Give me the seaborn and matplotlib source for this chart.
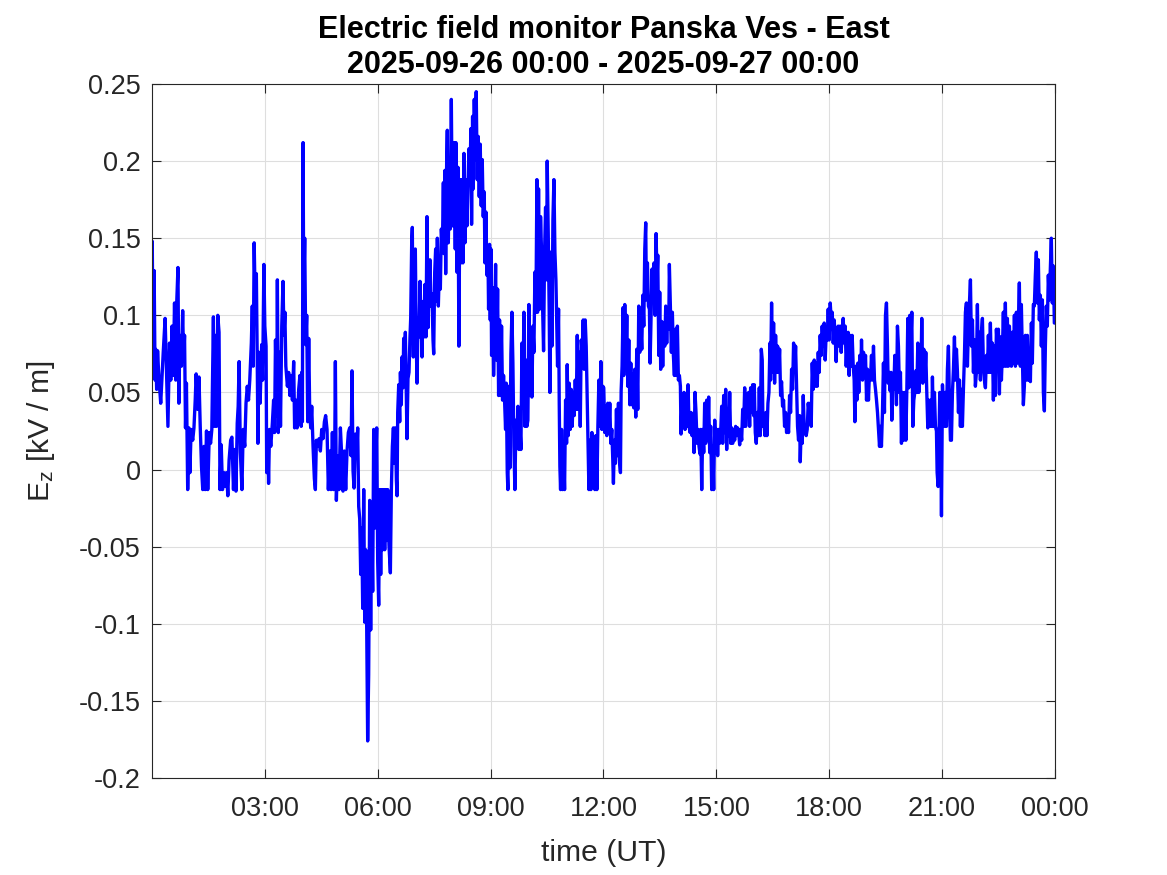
import numpy as np
import pandas as pd
import matplotlib
matplotlib.use("Agg")
import matplotlib.pyplot as plt
import matplotlib.dates as mdates
import seaborn as sns

# ------------------------------------------------------------
# Donnees : (minutes depuis 00:00 UT, Ez en kV/m)
# ------------------------------------------------------------
day_start = pd.Timestamp("2025-09-26 00:00")
day_end = pd.Timestamp("2025-09-27 00:00")

block_00_04 = [
    (0, 0.128), (0.5, 0.148), (2, 0.062), (3.5, 0.129), (5, 0.058), (6, 0.078), (7.5, 0.052), (9, 0.077), (11, 0.060), (14, 0.043),
    (18, 0.076), (21, 0.098), (25.5, 0.028), (28, 0.082), (30, 0.058), (32, 0.093), (34, 0.061), (36, 0.108), (38, 0.058), (39.5, 0.108),
    (40.5, 0.120), (41.5, 0.131), (43, 0.043), (44.5, 0.087), (47, 0.067), (49, 0.103), (50.5, 0.071), (52, 0.087), (53.5, 0.027), (55, 0.056),
    (57, -0.013), (59, 0.027), (60.5, -0.002), (62.5, 0.026), (65, 0.019), (67, 0.027), (69, 0.045), (70.5, 0.062), (73, 0.039), (75, 0.060),
    (77, 0.028), (79, 0.002), (81, -0.013), (83, 0.015), (85, -0.013), (87, 0.025), (89, -0.013), (91.5, 0.024), (93.5, 0.017), (95.5, 0.026),
    (98, 0.099), (99.5, 0.028), (101, 0.087), (103, 0.028), (105, 0.100), (107, 0.089), (108.5, -0.013), (110.5, 0.016), (112.5, -0.013), (115, -0.002),
    (117, -0.011), (119, -0.002), (121, -0.017), (123, 0.006), (125.5, 0.019), (127.5, 0.021), (130, -0.013), (132, 0.013), (134, -0.014), (136, 0.030),
    (137.5, 0.041), (139, 0.070), (141, 0.011), (143.5, -0.013), (145.5, 0.026), (148, 0.015), (150, 0.043), (152, 0.054), (154, 0.045), (156, 0.058),
    (158.5, 0.082), (160, 0.106), (161.5, 0.067), (163, 0.147), (165, 0.102), (166.5, 0.127), (168, 0.067), (169, 0.017), (170.5, 0.076), (172.5, 0.043),
    (175, 0.081), (176.5, 0.058), (178.5, 0.133), (180, 0.093), (182, 0.080), (183, -0.002), (184.5, 0.024), (186, -0.009), (187.5, 0.026), (189.5, 0.015),
    (192, 0.030), (194, 0.045), (195.5, 0.024), (197, 0.084), (199, 0.035), (200, 0.123), (201.5, 0.024), (203.5, 0.076), (205, 0.028), (207, 0.093),
    (209, 0.122), (210.5, 0.087), (212, 0.102), (213.5, 0.067), (216, 0.054), (218, 0.063), (220, 0.048), (222, 0.061), (224, 0.045), (226, 0.070),
    (227.5, 0.027), (229.5, 0.045), (231.5, 0.027), (234, 0.052), (236, 0.061), (238, 0.028),
]

block_04_08 = [
    (238.8, 0.063), (239.9, 0.031), (241, 0.212), (242, 0.114), (243.6, 0.150), (245.2, 0.081), (246.8, 0.100), (248.4, 0.031), (250, 0.085), (251.6, 0.037),
    (253.2, 0.027), (254.8, 0.041), (256.9, 0.015), (259, -0.006), (260.6, -0.013), (262.2, 0.019), (264.3, 0.015), (266.5, 0.020), (268.6, 0.012), (270.7, 0.026),
    (272.8, 0.020), (275, 0.031), (277, 0.035), (279.2, 0.026), (281.3, -0.013), (283.5, 0.012), (285.6, -0.013), (287.7, 0.024), (289.8, -0.013), (291.4, 0.009),
    (292.5, 0.070), (294.1, -0.020), (296.2, 0.009), (298.3, -0.013), (300.5, 0.027), (302.6, 0.009), (304.7, -0.014), (306.8, 0.012), (309, -0.013), (311.1, 0.012),
    (313.2, 0.024), (315.3, 0.027), (317.5, 0.009), (319, 0.064), (320.7, -0.001), (322.3, -0.012), (324.4, 0.023), (326.5, 0.009), (328.1, 0.027), (329.7, -0.024),
    (331.3, -0.032), (332.9, -0.068), (334.5, -0.038), (336.1, -0.090), (337.7, -0.013), (339.3, -0.099), (340.9, -0.052), (342.5, -0.104), (344, -0.176), (345.6, -0.133),
    (347.2, -0.020), (348.8, -0.104), (350.4, -0.032), (352, -0.079), (353.6, 0.026), (355.2, -0.038), (356.8, 0.004), (358.4, 0.027), (360, -0.060), (361.6, -0.088),
    (363.2, -0.013), (364.8, -0.068), (366.4, -0.013), (368, -0.052), (369.6, -0.013), (371.2, -0.052), (372.8, -0.013), (374.3, -0.046), (375.9, -0.013), (378, -0.049),
    (380.2, -0.067), (381.8, -0.013), (383.4, 0.015), (385, 0.027), (386.6, 0.004), (388.2, 0.027), (389.8, -0.007), (390.9, -0.017), (391.9, 0.037), (393.5, 0.055),
    (395.1, 0.031), (396.2, 0.063), (397.7, 0.042), (398.8, 0.073), (400.4, 0.053), (401.4, 0.085), (403, 0.070), (404.1, 0.089), (405.7, 0.048), (406.7, 0.020),
    (408.3, 0.059), (409.9, 0.063), (411.5, 0.086), (412.6, 0.098), (414.2, 0.147), (415.2, 0.157), (416.8, 0.073), (418.4, 0.106), (420, 0.143), (421.6, 0.081),
    (422.7, 0.056), (424.3, 0.098), (425.9, 0.086), (427.5, 0.122), (429.1, 0.098), (430.7, 0.073), (432.3, 0.109), (433.8, 0.086), (435.4, 0.120), (437, 0.086),
    (438.6, 0.164), (440.2, 0.092), (441.8, 0.120), (443.4, 0.136), (445, 0.106), (446.6, 0.114), (448.2, 0.084), (449.3, 0.075), (450.9, 0.128), (452.4, 0.143),
    (454, 0.109), (455.1, 0.150), (456.7, 0.106), (458.3, 0.131), (459.9, 0.117), (461.5, 0.156), (463.1, 0.142), (464.7, 0.186), (465.7, 0.140), (467.3, 0.194),
    (468.4, 0.127), (470, 0.201), (471, 0.220), (472.6, 0.147), (474.2, 0.189), (475.8, 0.156), (477.4, 0.240), (479, 0.158), (480.6, 0.211),
]

block_08_12 = [
    (481.5, 0.158), (482.1, 0.212), (483.7, 0.143), (484.7, 0.212), (486.3, 0.128), (487.9, 0.196), (489.5, 0.080), (491.1, 0.188), (492.7, 0.134), (494.3, 0.188),
    (495.9, 0.134), (497.5, 0.205), (499.1, 0.147), (500.7, 0.188), (502.3, 0.158), (503.9, 0.182), (505.5, 0.208), (507.1, 0.188), (508.6, 0.221), (509.7, 0.159),
    (511.3, 0.229), (512.4, 0.182), (514, 0.240), (515.6, 0.201), (517.1, 0.245), (518.7, 0.188), (520.3, 0.216), (521.9, 0.177), (523.5, 0.211), (525.1, 0.171),
    (526.7, 0.201), (528.3, 0.164), (529.9, 0.180), (531, 0.134), (532.6, 0.167), (534.2, 0.126), (535.7, 0.145), (536.8, 0.104), (538.4, 0.146), (539.5, 0.097),
    (540.5, 0.143), (541.6, 0.074), (543.2, 0.118), (544.8, 0.061), (546.4, 0.093), (548, 0.133), (549.6, 0.071), (551.2, 0.117), (552.8, 0.048), (554.3, 0.097),
    (555.9, 0.048), (557.5, 0.093), (559.1, 0.045), (560.7, 0.061), (562.3, 0.045), (563.9, 0.026), (565, 0.056), (566.6, -0.002), (567.6, -0.013), (569.2, 0.054),
    (570.8, 0.001), (572.4, 0.075), (574, 0.102), (575.6, 0.069), (577.2, 0.015), (578.8, -0.013), (580.4, 0.032), (582, 0.019), (583.6, 0.041), (585.2, 0.013),
    (586.8, 0.028), (588.4, 0.013), (590, 0.082), (591.5, 0.040), (593.1, 0.102), (594.7, 0.028), (596.3, 0.071), (597.9, 0.028), (599.5, 0.032), (601.1, 0.107),
    (602.7, 0.048), (604.3, 0.082), (605.9, 0.047), (607.5, 0.093), (609.1, 0.076), (610.7, 0.128), (612.3, 0.102), (613.9, 0.188), (614.9, 0.102), (616.5, 0.182),
    (618.1, 0.104), (619.7, 0.164), (621.3, 0.141), (622.9, 0.106), (624.5, 0.077), (626.1, 0.141), (627.7, 0.170), (629.3, 0.123), (630.3, 0.200), (631.9, 0.154),
    (633.5, 0.102), (634.6, 0.050), (636.2, 0.141), (637.8, 0.080), (639.4, 0.162), (641, 0.188), (642.6, 0.141), (644.2, 0.123), (645.8, 0.089), (646.8, 0.067),
    (648.4, 0.104), (649.5, 0.043), (650.5, 0.002), (651.6, -0.013), (653.2, 0.026), (654.8, -0.013), (656.4, 0.013), (658, -0.013), (659.6, 0.045), (661.2, 0.017),
    (662.2, 0.068), (663.8, 0.022), (665.4, 0.056), (667, 0.026), (668.6, 0.052), (670.2, 0.028), (671.8, 0.050), (673.4, 0.035), (675, 0.058), (676.6, 0.039),
    (678.2, 0.087), (679.8, 0.039), (681.4, 0.076), (683, 0.028), (684.5, 0.084), (686.1, 0.076), (687.7, 0.097), (689.3, 0.065), (690.9, 0.097), (692.5, 0.080),
    (694.1, 0.045), (695.2, 0.022), (696.8, -0.013), (698.4, 0.019), (700, -0.013), (701.6, 0.024), (703.1, -0.006), (704.7, 0.017), (706.3, -0.013), (707.9, 0.022),
    (709.5, -0.013), (711.1, 0.028), (712.7, 0.058), (714.3, 0.028), (715.9, 0.070), (717.5, 0.026), (719.1, 0.054),
]

block_12_16 = [
    (720.5, 0.053), (722.1, 0.024), (723.7, 0.041), (725.3, 0.022), (726.9, 0.043), (728.5, 0.024), (730.1, 0.043), (731.7, 0.017), (733.3, 0.026), (734.9, 0.006),
    (735.9, -0.009), (737.5, 0.019), (739.1, 0.004), (740.7, 0.039), (742.3, 0.009), (743.9, 0.043), (745.5, 0.006), (747.1, -0.002), (748.2, 0.051), (749.7, 0.067),
    (751.3, 0.105), (752.4, 0.061), (754, 0.107), (755.6, 0.069), (757.2, 0.100), (758.8, 0.054), (760.4, 0.084), (762, 0.042), (763.6, 0.069), (765.1, 0.042),
    (766.7, 0.062), (768.3, 0.040), (769.9, 0.065), (771.5, 0.034), (773.1, 0.078), (774.7, 0.039), (776.3, 0.106), (777.9, 0.076), (779.5, 0.094), (781.1, 0.078),
    (782.7, 0.113), (784.3, 0.093), (785.9, 0.143), (787.4, 0.160), (788.5, 0.110), (790.1, 0.134), (791.7, 0.106), (793.3, 0.104), (794.4, 0.069), (796, 0.102),
    (797.5, 0.130), (799.1, 0.110), (800.7, 0.134), (802.3, 0.100), (803.9, 0.153), (805.5, 0.123), (806.6, 0.139), (808.2, 0.074), (809.7, 0.115), (811.3, 0.065),
    (813, 0.096), (814.5, 0.067), (816.1, 0.095), (817.7, 0.080), (819.3, 0.106), (820.9, 0.082), (822.5, 0.104), (824.1, 0.091), (825.1, 0.133), (826.7, 0.106),
    (828.3, 0.076), (829.9, 0.102), (831.5, 0.074), (833.1, 0.061), (834.7, 0.091), (836.3, 0.061), (837.9, 0.093), (839.5, 0.058), (841.1, 0.061), (842.7, 0.054),
    (843.7, 0.023), (845.3, 0.045), (846.9, 0.028), (848.5, 0.050), (850.1, 0.026), (851.7, 0.039), (853.3, 0.028), (854.9, 0.055), (856.5, 0.028), (858.1, 0.024),
    (859.7, 0.037), (861.3, 0.022), (862.9, 0.032), (864.4, 0.011), (866, 0.050), (867.6, 0.037), (869.2, 0.017), (870.8, 0.026), (872.4, 0.015), (874, 0.010),
    (875.1, 0.026), (876.7, -0.013), (878.3, 0.026), (879.9, 0.011), (881.4, 0.043), (883, 0.017), (884.6, 0.045), (886.2, 0.019), (887.8, 0.047), (889.4, 0.011),
    (891, 0.028), (892.6, -0.013), (894.2, 0.015), (895.8, -0.013), (897.4, 0.032), (899, 0.011), (900.6, 0.026), (902.1, 0.009), (903.7, 0.026), (905.3, 0.017),
    (906.9, 0.024), (908.5, 0.041), (910.1, 0.017), (911.7, 0.048), (913.3, 0.024), (914.9, 0.052), (916.5, 0.013), (918.1, 0.039), (919.7, 0.022), (921.3, 0.050),
    (922.9, 0.017), (924.5, 0.027), (926.1, 0.017), (927.6, 0.026), (929.2, 0.019), (930.8, 0.028), (932.4, 0.022), (934, 0.027), (935.6, 0.024), (937.2, 0.016),
    (938.8, 0.026), (940.4, 0.019), (942, 0.039), (943.6, 0.028), (945.2, 0.053), (946.8, 0.028), (948.3, 0.049), (949.9, 0.037), (951.5, 0.050), (953.1, 0.028),
    (954.7, 0.053), (956.3, 0.037), (957.9, 0.055), (959.5, 0.035),
]

block_16_20 = [
    (960.5, 0.055), (962.1, 0.024), (963.7, 0.017), (965.3, 0.037), (966.9, 0.022), (968.5, 0.053), (970.1, 0.022), (971.7, 0.078), (973.2, 0.071), (974.3, 0.028),
    (975.9, 0.031), (977.5, 0.022), (979.1, 0.037), (980.7, 0.022), (982.3, 0.043), (983.9, 0.050), (985.5, 0.082), (986.5, 0.058), (988.1, 0.108), (989.7, 0.063),
    (991.3, 0.095), (992.9, 0.056), (994.5, 0.087), (996.1, 0.063), (997.7, 0.080), (999.3, 0.063), (1000.9, 0.078), (1002.5, 0.048), (1004, 0.057), (1005.6, 0.041),
    (1007.2, 0.045), (1008.8, 0.028), (1010.4, 0.037), (1012, 0.024), (1013.6, 0.032), (1015.2, 0.024), (1016.8, 0.048), (1018.4, 0.037), (1020, 0.065), (1021.6, 0.052),
    (1023.2, 0.082), (1024.8, 0.063), (1026.4, 0.080), (1027.9, 0.056), (1029.5, 0.028), (1031.1, 0.019), (1032.7, 0.035), (1033.8, 0.005), (1035.4, 0.028), (1037, 0.017),
    (1038.6, 0.048), (1040.2, 0.026), (1041.7, 0.024), (1043.3, 0.022), (1044.9, 0.026), (1046.5, 0.043), (1048.1, 0.037), (1049.7, 0.043), (1051.3, 0.028), (1052.9, 0.069),
    (1054.5, 0.052), (1056.1, 0.071), (1057.7, 0.054), (1059.3, 0.069), (1060.9, 0.054), (1062.5, 0.076), (1064, 0.063), (1065.6, 0.087), (1067.2, 0.074), (1068.8, 0.093),
    (1070.4, 0.080), (1072, 0.095), (1073.6, 0.071), (1075.2, 0.089), (1076.8, 0.084), (1078.4, 0.104), (1080, 0.084), (1081.6, 0.108), (1083.2, 0.097), (1084.8, 0.102),
    (1086.4, 0.082), (1087.9, 0.097), (1089.5, 0.087), (1091.1, 0.070), (1092.7, 0.091), (1094.3, 0.093), (1095.9, 0.080), (1097.5, 0.093), (1099.1, 0.076), (1100.7, 0.089),
    (1102.3, 0.098), (1103.9, 0.082), (1105.5, 0.093), (1107.1, 0.067), (1108.7, 0.084), (1110.2, 0.089), (1111.8, 0.061), (1113.4, 0.087), (1115, 0.067), (1116.6, 0.087),
    (1118.2, 0.068), (1119.8, 0.058), (1120.9, 0.031), (1122.5, 0.067), (1124.1, 0.045), (1125.6, 0.069), (1127.2, 0.050), (1128.8, 0.074), (1130.4, 0.063), (1131.5, 0.084),
    (1133.1, 0.058), (1134.7, 0.076), (1136.3, 0.065), (1137.9, 0.074), (1139.5, 0.045), (1141.1, 0.065), (1142.6, 0.045), (1144.2, 0.063), (1145.8, 0.058), (1147.4, 0.074),
    (1149, 0.058), (1150.6, 0.080), (1152.2, 0.058), (1153.8, 0.052), (1155.4, 0.045), (1157, 0.037), (1158.6, 0.026), (1160.2, 0.015), (1161.8, 0.028), (1163.3, 0.015),
    (1164.9, 0.037), (1166.5, 0.069), (1168.1, 0.037), (1169.7, 0.100), (1171.3, 0.108), (1172.9, 0.080), (1174, 0.056), (1175.6, 0.063), (1177.2, 0.051), (1178.7, 0.063),
    (1179.8, 0.032), (1181.4, 0.058), (1183, 0.052), (1184.6, 0.074), (1186.2, 0.058), (1187.2, 0.042), (1188.8, 0.093), (1190.4, 0.080), (1192, 0.050), (1193.6, 0.063),
    (1195.2, 0.017), (1196.8, 0.050), (1198.4, 0.019),
]

block_20_24 = [
    (1200.6, 0.050), (1202.2, 0.019), (1203.8, 0.052), (1205.3, 0.098), (1206.9, 0.053), (1208.5, 0.100), (1210.1, 0.080), (1211.7, 0.102), (1213.3, 0.028), (1214.9, 0.045),
    (1216.5, 0.050), (1218.1, 0.064), (1219.7, 0.050), (1221.3, 0.082), (1222.9, 0.050), (1224.5, 0.080), (1226.1, 0.058), (1227.6, 0.098), (1229.2, 0.056), (1230.8, 0.078),
    (1232.4, 0.058), (1234, 0.076), (1235.6, 0.050), (1237.2, 0.027), (1238.8, 0.045), (1240.4, 0.028), (1242, 0.045), (1243.6, 0.028), (1244.6, 0.060), (1246.2, 0.028),
    (1247.8, 0.050), (1249.4, 0.028), (1251, 0.025), (1252.1, -0.002), (1253.7, -0.011), (1255.3, 0.026), (1256.3, 0.050), (1257.9, 0.024), (1259, -0.030), (1260.6, 0.055),
    (1262.2, 0.037), (1263.8, 0.028), (1265.3, 0.050), (1266.9, 0.028), (1268.5, 0.065), (1270.1, 0.080), (1271.7, 0.045), (1273.3, 0.019), (1274.9, 0.019), (1276.5, 0.050),
    (1278.1, 0.065), (1279.7, 0.086), (1281.3, 0.058), (1282.9, 0.078), (1284.5, 0.063), (1286.1, 0.037), (1287.7, 0.058), (1289.2, 0.028), (1290.8, 0.052), (1292.4, 0.028),
    (1294, 0.052), (1295.6, 0.073), (1297.2, 0.102), (1298.8, 0.108), (1300.4, 0.067), (1302, 0.093), (1303.6, 0.108), (1305.2, 0.123), (1306.8, 0.080), (1308.4, 0.097),
    (1310, 0.063), (1311.5, 0.084), (1313.1, 0.054), (1314.7, 0.063), (1316.3, 0.107), (1317.9, 0.063), (1319.5, 0.089), (1321.1, 0.058), (1322.7, 0.089), (1324.3, 0.098),
    (1325.9, 0.067), (1327.5, 0.058), (1329.1, 0.053), (1330.7, 0.074), (1332.3, 0.063), (1333.8, 0.087), (1335.4, 0.063), (1337, 0.095), (1338.6, 0.063), (1340.2, 0.082),
    (1341.8, 0.045), (1343.4, 0.080), (1345, 0.048), (1346.6, 0.091), (1348.2, 0.078), (1349.8, 0.091), (1351.4, 0.049), (1353, 0.086), (1354.6, 0.058), (1356.2, 0.077),
    (1357.7, 0.102), (1359.3, 0.067), (1360.9, 0.108), (1362.5, 0.067), (1364.1, 0.098), (1365.7, 0.067), (1367.3, 0.093), (1368.9, 0.078), (1370.5, 0.067), (1372.1, 0.089),
    (1373.7, 0.069), (1375.3, 0.100), (1376.9, 0.067), (1378.5, 0.102), (1380.1, 0.069), (1381.6, 0.093), (1383.2, 0.121), (1384.8, 0.067), (1386.4, 0.107), (1388, 0.074),
    (1389.6, 0.042), (1391.2, 0.054), (1392.8, 0.087), (1394.4, 0.058), (1396, 0.087), (1397.6, 0.058), (1399.2, 0.069), (1400.8, 0.057), (1402.4, 0.095), (1403.9, 0.069),
    (1405.5, 0.107), (1407.1, 0.106), (1408.7, 0.126), (1410.3, 0.141), (1411.9, 0.108), (1413.5, 0.136), (1415.1, 0.097), (1416.7, 0.113), (1418.3, 0.080), (1419.9, 0.110),
    (1421.5, 0.050), (1423.1, 0.038), (1424.7, 0.080), (1426.2, 0.106), (1427.8, 0.093), (1429.4, 0.126), (1431, 0.110), (1432.6, 0.130), (1434.2, 0.150), (1435.8, 0.108),
    (1437.4, 0.132), (1439, 0.095), (1440, 0.095),
]

y_ticks = [-0.2, -0.15, -0.1, -0.05, 0, 0.05, 0.1, 0.15, 0.2, 0.25]
x_tick_hours = [3, 6, 9, 12, 15, 18, 21, 24]

titre = "Electric field monitor Panska Ves - East\n2025-09-26 00:00 - 2025-09-27 00:00"

# ------------------------------------------------------------
# Mise en forme
# ------------------------------------------------------------
blocks = [block_00_04, block_04_08, block_08_12, block_12_16, block_16_20, block_20_24]
pts = [p for b in blocks for p in b]
df = pd.DataFrame(pts, columns=["minutes", "ez"])
df["time"] = day_start + pd.to_timedelta(df["minutes"], unit="min")

sns.set_style("white")
plt.rcParams["font.family"] = ["Liberation Sans", "DejaVu Sans"]
plt.rcParams["mathtext.fontset"] = "custom"
plt.rcParams["mathtext.rm"] = "Liberation Sans"
plt.rcParams["mathtext.it"] = "Liberation Sans"

txt = "#262626"

fig = plt.figure(figsize=(11.67, 8.75), dpi=100)
ax = fig.add_axes([0.1302, 0.1109, 0.904 - 0.1302, 0.904 - 0.1109])

sns.lineplot(data=df, x="time", y="ez", ax=ax, color="#0000ff", linewidth=2.4,
             estimator=None, sort=False, legend=False)

ax.set_xlim(day_start, day_end)
ax.set_ylim(-0.2, 0.25)

ax.set_xticks([day_start + pd.Timedelta(hours=h) for h in x_tick_hours])
ax.xaxis.set_major_formatter(mdates.DateFormatter("%H:%M"))
ax.set_yticks(y_ticks)
ax.set_yticklabels([f"{v:g}" for v in y_ticks])

ax.grid(True, color="#dedede", linewidth=0.8)
ax.set_axisbelow(True)
for s in ax.spines.values():
    s.set_color(txt)
    s.set_linewidth(0.8)
ax.tick_params(axis="both", which="major", direction="in", length=6.5, width=0.8,
               color=txt, labelcolor=txt, labelsize=19.5,
               top=True, right=True, bottom=True, left=True)
ax.tick_params(axis="x", pad=13)
ax.tick_params(axis="y", pad=8)

ax.set_xlabel("time (UT)", fontsize=21.7, color=txt, labelpad=12)
ax.set_ylabel(r"E$_{\mathrm{z}}$ [kV / m]", fontsize=21.7, color=txt, labelpad=16)
ax.set_title(titre, fontsize=22, fontweight="bold", color="black", pad=8, linespacing=1.2)

fig.savefig("out.png", dpi=100)
